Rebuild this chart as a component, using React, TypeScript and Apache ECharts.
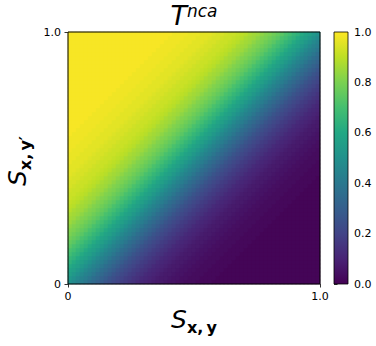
import React, { useEffect, useRef } from "react";
import * as echarts from "echarts";

// Value of T^nca along the diagonals of the grid.
// Index k = (row - column) offset; POS for k = 0..40, NEG for k = -1..-40.
const N_CELLS = 63;
const POS = [
  0.5, 0.53, 0.56, 0.58, 0.61, 0.64, 0.66, 0.69, 0.71, 0.74, 0.76, 0.78, 0.8, 0.81, 0.83, 0.85,
  0.86, 0.87, 0.89, 0.9, 0.91, 0.92, 0.92, 0.93, 0.94, 0.94, 0.95, 0.96, 0.96, 0.96, 0.97, 0.97,
  0.97, 0.98, 0.98, 0.98, 0.98, 0.99, 0.99, 0.99, 0.99,
];
const NEG = [
  0.47, 0.44, 0.42, 0.39, 0.36, 0.34, 0.31, 0.29, 0.26, 0.24, 0.22, 0.2, 0.18, 0.17, 0.15, 0.14,
  0.12, 0.11, 0.1, 0.09, 0.08, 0.07, 0.07, 0.06, 0.05, 0.05, 0.04, 0.04, 0.03, 0.03, 0.03, 0.02,
  0.02, 0.02, 0.02, 0.01, 0.01, 0.01, 0.01, 0.01,
];
const AXIS_TICKS = [0, 1];
const AXIS_TICK_LABELS = ["0", "1.0"];
const CBAR_TICKS = [0, 0.2, 0.4, 0.6, 0.8, 1.0];

const VIRIDIS = [
  "#440154", "#482475", "#414487", "#355f8d", "#2a788e", "#21918c",
  "#22a884", "#44bf70", "#7ad151", "#bddf26", "#fde725",
];

const FONT = "DejaVu Sans";
const PLOT = { left: 68, top: 32, width: 252, height: 252 };
const CBAR = { left: 334, top: 32, width: 14, height: 252 };

function cellValue(k: number): number {
  if (k >= 0) return POS[Math.min(k, POS.length - 1)];
  return NEG[Math.min(-k, NEG.length) - 1];
}

export default function App() {
  const ref = useRef<HTMLDivElement>(null);
  useEffect(() => {
    if (!ref.current) return;
    const chart = echarts.init(ref.current, null, { renderer: "svg" });
    const cats = Array.from({ length: N_CELLS }, (_, i) => String(i));
    const data: number[][] = [];
    for (let i = 0; i < N_CELLS; i++) {
      for (let j = 0; j < N_CELLS; j++) {
        data.push([i, j, cellValue(j - i)]);
      }
    }
    const tickLabel = (v: number) => {
      const idx = AXIS_TICKS.indexOf(v);
      return idx >= 0 ? AXIS_TICK_LABELS[idx] : "";
    };
    const tick = { show: true, inside: false, length: 3.5, lineStyle: { color: "#000", width: 0.8 } };
    const lbl = { color: "#000", fontFamily: FONT, fontSize: 11 };
    const supStyle = {
      s: { fontFamily: FONT, fontStyle: "italic", fontSize: 25, fill: "#000", verticalAlign: "bottom", padding: [0, 0, 3, 0] },
      b: { fontFamily: FONT, fontWeight: "bold", fontSize: 16, fill: "#000", verticalAlign: "bottom" },
    };
    chart.setOption({
      animation: false,
      backgroundColor: "#fff",
      grid: [
        { ...PLOT, containLabel: false },
        { ...CBAR, containLabel: false },
      ],
      xAxis: [
        { type: "category", data: cats, gridIndex: 0, show: false },
        {
          type: "value", gridIndex: 0, min: 0, max: 1, interval: 1, position: "bottom",
          axisLine: { show: false }, axisTick: tick, splitLine: { show: false },
          axisLabel: { ...lbl, margin: 7, formatter: tickLabel, showMinLabel: true, showMaxLabel: true },
        },
        { type: "value", gridIndex: 1, show: false, min: 0, max: 1 },
      ],
      yAxis: [
        { type: "category", data: cats, gridIndex: 0, show: false },
        {
          type: "value", gridIndex: 0, min: 0, max: 1, interval: 1, position: "left",
          axisLine: { show: false }, axisTick: tick, splitLine: { show: false },
          axisLabel: { ...lbl, margin: 7, formatter: tickLabel, showMinLabel: true, showMaxLabel: true },
        },
        {
          type: "value", gridIndex: 1, min: 0, max: 1, interval: 0.2, position: "right",
          axisLine: { show: false }, axisTick: tick, splitLine: { show: false },
          axisLabel: {
            ...lbl, margin: 6,
            formatter: (v: number) => (CBAR_TICKS.some((t) => Math.abs(t - v) < 1e-9) ? v.toFixed(1) : ""),
          },
        },
      ],
      visualMap: {
        show: false, type: "continuous", min: 0, max: 1, seriesIndex: 0, dimension: 2,
        inRange: { color: VIRIDIS },
      },
      series: [
        {
          type: "heatmap", xAxisIndex: 0, yAxisIndex: 0, data,
          itemStyle: { borderWidth: 0 },
          emphasis: { disabled: true },
        },
      ],
      graphic: [
        {
          type: "rect", z: 100,
          shape: { x: PLOT.left, y: PLOT.top, width: PLOT.width, height: PLOT.height },
          style: { fill: "none", stroke: "#000", lineWidth: 1 },
        },
        {
          type: "rect", z: 100,
          shape: { x: CBAR.left, y: CBAR.top, width: CBAR.width, height: CBAR.height },
          style: {
            fill: {
              type: "linear", x: 0, y: 1, x2: 0, y2: 0,
              colorStops: VIRIDIS.map((c, i) => ({ offset: i / (VIRIDIS.length - 1), color: c })),
            },
            stroke: "#000", lineWidth: 0.8,
          },
        },
        {
          type: "text", z: 100, x: 194, y: 2,
          style: {
            text: "{t|T}{s|nca}", align: "center", verticalAlign: "top",
            rich: {
              t: { fontFamily: FONT, fontStyle: "italic", fontSize: 27, fill: "#000", verticalAlign: "bottom" },
              s: { fontFamily: FONT, fontStyle: "italic", fontSize: 17, fill: "#000", verticalAlign: "top" },
            },
          },
        },
        {
          type: "text", z: 100, x: 194, y: 321,
          style: { text: "{s|S}{b|x,\u2009y}", align: "center", verticalAlign: "middle", rich: supStyle },
        },
        {
          type: "text", z: 100, x: 19, y: 161, rotation: Math.PI / 2,
          style: { text: "{s|S}{b|x,\u2009y′}", align: "center", verticalAlign: "middle", rich: supStyle },
        },
      ],
    });
    return () => chart.dispose();
  }, []);
  return (
    <div
      ref={ref}
      style={{ position: "fixed", left: 0, top: 0, width: 376, height: 346, background: "#fff" }}
    />
  );
}
